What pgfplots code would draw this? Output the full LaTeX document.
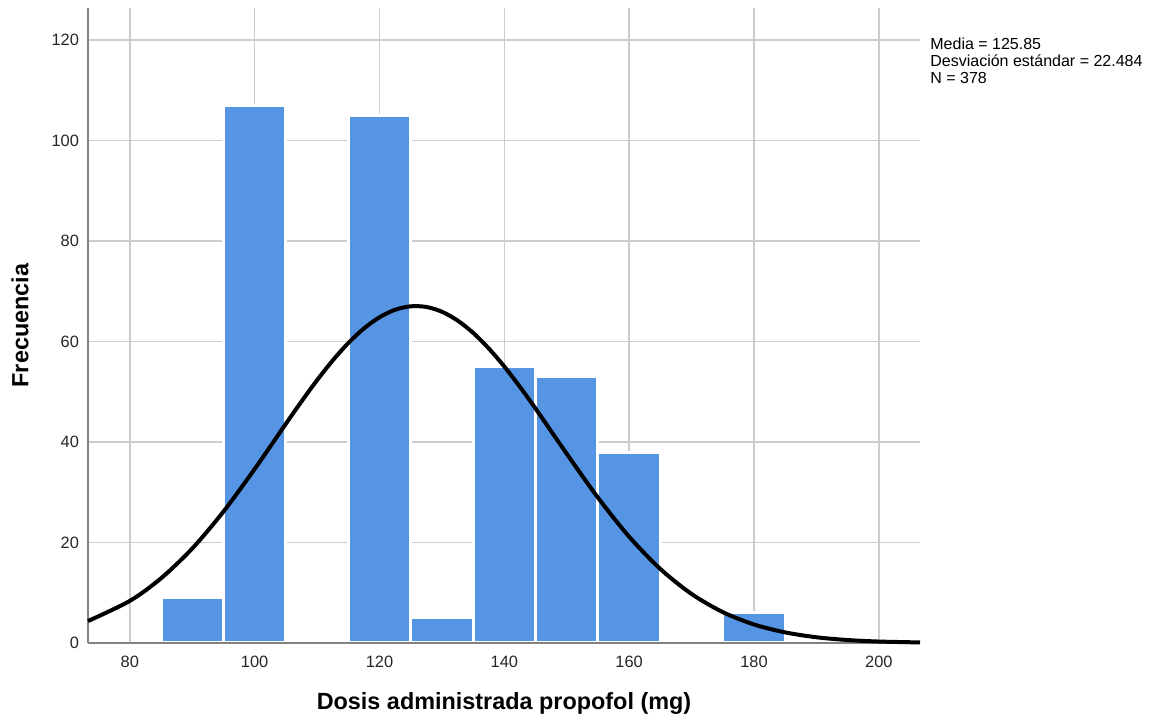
\documentclass[border=0pt]{standalone}
\usepackage{fontspec}
\setmainfont{Liberation Sans}
\usepackage{pgfplots}
\pgfplotsset{compat=1.18}
\definecolor{barblue}{RGB}{85,149,228}
\definecolor{gridgray}{RGB}{205,205,205}
\definecolor{axisgray}{RGB}{130,130,130}
\begin{document}
\begin{tikzpicture}
\useasboundingbox (0,0) rectangle (575.5pt,361pt);
\begin{axis}[
  at={(44pt,39.5pt)}, anchor=south west,
  scale only axis, width=416pt, height=317.5pt,
  xmin=73.3, xmax=206.6, ymin=0, ymax=126.4,
  axis x line=bottom, axis y line=left,
  axis line style={axisgray, line width=0.75pt, -},
  xtick={80,100,...,200}, ytick={0,20,...,120},
  major tick length=0pt,
  grid=major, major grid style={gridgray, line width=0.75pt},
  /pgf/number format/assume math mode=true,
  tick label style={font=\fontsize{8.2}{9.5}\selectfont, text=black!85},
  xticklabel style={yshift=-3pt},
  yticklabel style={xshift=-1pt},
  xlabel={\textbf{Dosis administrada propofol (mg)}},
  ylabel={\textbf{Frecuencia}},
  label style={font=\fontsize{11.7}{13}\selectfont},
  xlabel style={at={(axis description cs:0.5,-0.0945)}, anchor=center},
  ylabel style={at={(axis description cs:-0.0817,0.5)}, anchor=center, rotate=0},
  clip=false,
]
\addplot[ybar, bar width=10, fill=barblue, draw=white, line width=1.5pt] coordinates {
  (90,9) (100,107) (120,105) (130,5) (140,55) (150,53) (160,38) (180,6)
};
\draw[axisgray, line width=0.75pt] (rel axis cs:0,0) -- (rel axis cs:1,0);
\addplot[black, line width=2pt, smooth, no markers] coordinates {
  (73.3,4.37) (80,8.38) (85,12.88) (90,18.81) (95,26.16) (100,34.63) (105,43.63)
  (107.5,48.07) (110,52.31) (112.5,56.23) (115,59.70) (117.5,62.60) (120,64.84)
  (122.5,66.33) (125,67.02) (127.5,66.89) (130,65.94) (132.5,64.20) (135,61.74)
  (137.5,58.64) (140,55.03) (142.5,50.99) (145,46.67) (150,37.67) (155,28.94)
  (160,21.16) (165,14.73) (170,9.76) (175,6.15) (180,3.69) (185,2.11)
  (190,1.14) (195,0.59) (200,0.29) (206.6,0.11)
};
\node[anchor=north west, align=left, inner sep=0pt,
  font=\fontsize{8}{8.5}\selectfont]
  at (axis description cs:1.012,0.953)
  {Media = 125.85\\Desviación estándar = 22.484\\N = 378};
\end{axis}
\end{tikzpicture}
\end{document}
